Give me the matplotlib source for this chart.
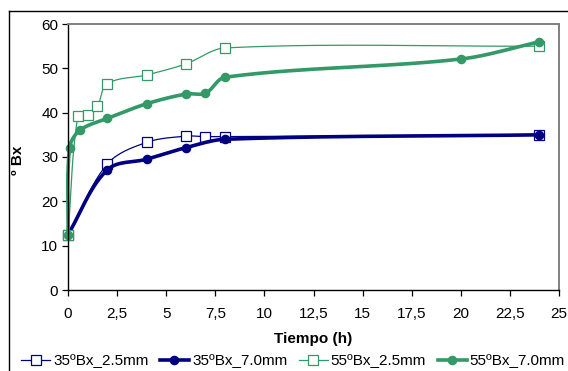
import numpy as np
import matplotlib.pyplot as plt
from matplotlib.lines import Line2D
from matplotlib.ticker import FuncFormatter

plt.rcParams['font.family'] = ['Liberation Sans', 'DejaVu Sans']

#### Datos ####
t_35_25 = [0, 2, 4, 6, 7, 8, 24]
bx_35_25 = [12.3, 28.4, 33.3, 34.7, 34.6, 34.6, 35.0]

t_35_70 = [0, 2, 4, 6, 8, 24]
bx_35_70 = [12.5, 27.1, 29.5, 32.1, 34.0, 35.0]

t_55_25 = [0, 0.5, 1, 1.5, 2, 4, 6, 8, 24]
bx_55_25 = [12.3, 39.2, 39.4, 41.5, 46.5, 48.5, 51.0, 54.6, 55.0]

t_55_70 = [0, 0.08, 0.6, 2, 4, 6, 7, 8, 20, 24]
bx_55_70 = [12.3, 32.0, 36.0, 38.7, 42.0, 44.2, 44.4, 48.0, 52.1, 56.0]

labels = ['35ºBx_2.5mm', '35ºBx_7.0mm', '55ºBx_2.5mm', '55ºBx_7.0mm']
navy = '#000080'
green = '#339966'

# escala en pixeles del area de trazado (para suavizar como Excel)
sx, sy = 491 / 25.0, 266 / 60.0


def suave(x, y, n=30):
    # curva suavizada (Bezier), tangentes limitadas por la longitud del tramo
    p = np.column_stack([np.array(x) * sx, np.array(y) * sy]).astype(float)
    k = len(p)
    tg = np.zeros_like(p)
    for i in range(k):
        d = p[min(i + 1, k - 1)] - p[max(i - 1, 0)]
        nd = np.hypot(*d)
        tg[i] = d / nd if nd > 0 else 0
    out = []
    for i in range(k - 1):
        p1, p2 = p[i], p[i + 1]
        L = np.hypot(*(p2 - p1)) / 3.0
        c1 = p1 + tg[i] * L
        c2 = p2 - tg[i + 1] * L
        s = np.linspace(0, 1, n)[:, None]
        b = (1 - s) ** 3 * p1 + 3 * (1 - s) ** 2 * s * c1 + 3 * (1 - s) * s ** 2 * c2 + s ** 3 * p2
        out.append(b)
    b = np.vstack(out)
    return b[:, 0] / sx, b[:, 1] / sy


fig = plt.figure(figsize=(5.68, 3.71), dpi=100)
ax = fig.add_axes([68 / 568, 1 - 290 / 371, (559 - 68) / 568, (290 - 24) / 371])

series = [
    (t_35_25, bx_35_25, navy, 0.9, 's', 'white', 6.5),
    (t_35_70, bx_35_70, navy, 2.6, 'o', navy, 6),
    (t_55_25, bx_55_25, green, 0.9, 's', 'white', 6.5),
    (t_55_70, bx_55_70, green, 2.6, 'o', green, 6),
]
handles = []
for x, y, c, lw, m, fc, ms in series:
    xs, ys = suave(x, y)
    ax.plot(xs, ys, color=c, lw=lw, solid_capstyle='round', clip_on=False)
    ax.plot(x, y, ls='none', marker=m, mfc=fc, mec=c, ms=ms, mew=0.9, clip_on=False)
    handles.append(Line2D([], [], color=c, lw=lw, marker=m, mfc=fc, mec=c, ms=ms, mew=0.9))

ax.set_xlim(0, 25)
ax.set_ylim(0, 60)
ax.set_xticks(np.arange(0, 25.1, 2.5))
ax.set_yticks(np.arange(0, 61, 10))
ax.xaxis.set_major_formatter(FuncFormatter(lambda v, p: ('%g' % v).replace('.', ',')))
ax.tick_params(direction='out', length=4, width=0.9, labelsize=11, colors='black', pad=8)
ax.tick_params(axis='y', pad=3)
for s in ['top', 'right']:
    ax.spines[s].set_color('#808080')
    ax.spines[s].set_linewidth(1.4)
for s in ['left', 'bottom']:
    ax.spines[s].set_color('black')
    ax.spines[s].set_linewidth(1.0)

fig.text(313 / 568, 1 - 339 / 371, 'Tiempo (h)', ha='center', va='center', fontsize=11, fontweight='bold')
fig.text(18 / 568, 1 - 160 / 371, 'º Bx', ha='center', va='center', rotation=90, fontsize=11, fontweight='bold')

fig.legend(handles, labels, loc='center', bbox_to_anchor=(293 / 568, 1 - 361 / 371), ncol=4,
           frameon=False, fontsize=11, handlelength=1.9, handletextpad=0.2, columnspacing=0.75,
           borderpad=0, borderaxespad=0)

# borde del grafico
fig.add_artist(Line2D([9 / 568, 1], [1 - 11 / 371] * 2, color='black', lw=1.0))
fig.add_artist(Line2D([9 / 568] * 2, [0, 1 - 11 / 371], color='black', lw=1.0))

fig.savefig('out.png', dpi=100)
